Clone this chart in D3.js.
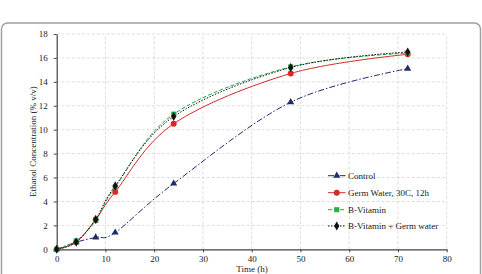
<!DOCTYPE html>
<html><head><meta charset="utf-8">
<script src="https://cdn.jsdelivr.net/npm/d3@7"></script>
<style>body{margin:0;background:#fff}svg{display:block}svg text{font-family:'Liberation Serif','Times New Roman',serif !important;fill:#222}</style>
</head><body><svg id="c" width="482" height="274"></svg>
<script>
const times = [0, 4, 8, 12, 24, 48, 72];
const seriesNames = ["Control", "Germ Water, 30C, 12h", "B-Vitamin", "B-Vitamin + Germ water"];
const control = [0, 0.6, 1.0, 1.4, 5.5, 12.3, 15.1];
const germWater = [0, 0.6, 2.5, 4.8, 10.5, 14.7, 16.3];
const bVitamin = [0, 0.7, 2.4, 5.2, 11.3, 15.25, 16.4];
const bVitGerm = [0, 0.6, 2.5, 5.3, 11.1, 15.2, 16.5];
const xTicks = [0, 10, 20, 30, 40, 50, 60, 70, 80];
const yTicks = [0, 2, 4, 6, 8, 10, 12, 14, 16, 18];

const FONT = "'Liberation Serif','Times New Roman',serif";
const FS = "9px";
const svg = d3.select("#c");
// frame
svg.append("rect").attr("x",1.5).attr("y",23).attr("width",479).attr("height",260).attr("rx",6)
  .attr("fill","none").attr("stroke","#a0a0a0").attr("stroke-width",1.5);

const x = d3.scaleLinear().domain([0,80]).range([56.7,446.7]);
const y = d3.scaleLinear().domain([0,18]).range([249.3,34]);

// grid
const g = svg.append("g");
g.selectAll(".gx").data(xTicks.slice(1)).join("line")
  .attr("x1",d=>x(d)).attr("x2",d=>x(d)).attr("y1",y(0)).attr("y2",y(18))
  .attr("stroke","#d4d4d4").attr("stroke-dasharray","3,2").attr("stroke-width",0.8);
g.selectAll(".gy").data(yTicks.slice(1)).join("line")
  .attr("x1",x(0)).attr("x2",x(80)).attr("y1",d=>y(d)).attr("y2",d=>y(d))
  .attr("stroke","#d4d4d4").attr("stroke-dasharray","3,2").attr("stroke-width",0.8);

// axes
const xa = svg.append("g").attr("transform",`translate(0,${y(0)})`)
  .call(d3.axisBottom(x).tickValues(xTicks).tickSize(3).tickPadding(3).tickSizeOuter(0));
const ya = svg.append("g").attr("transform",`translate(${x(0)},0)`)
  .call(d3.axisLeft(y).tickValues(yTicks).tickSize(3).tickPadding(6).tickSizeOuter(0));
[xa,ya].forEach(a=>{
  a.attr("font-family",FONT).attr("font-size",9);
  a.select(".domain").attr("stroke","#444").attr("stroke-width",1.2);
  a.selectAll(".tick line").attr("stroke","#444");
  a.selectAll("text").style("font-family",FONT).style("font-size",FS).attr("fill","#222");
});

svg.append("text").attr("x",252).attr("y",272).attr("text-anchor","middle").style("font-family",FONT).style("font-size",FS).text("Time (h)");
svg.append("text").attr("transform",`translate(36,${(y(0)+y(18))/2}) rotate(-90)`)
  .attr("text-anchor","middle").style("font-family",FONT).style("font-size",FS).text("Ethanol Concentration (% v/v)");

const styles = [
  {vals:control, color:"#1f2d6b", dash:"6,2,1.5,2", sym:d3.symbolTriangle, size:22},
  {vals:germWater, color:"#d42a2a", dash:null, sym:d3.symbolCircle, size:28},
  {vals:bVitamin, color:"#1fa84a", dash:"4,2", sym:d3.symbolSquare, size:26},
  {vals:bVitGerm, color:"#111", dash:"1.5,1.5", sym:d3.symbolDiamond, size:24}
];
const line = d3.line().x((d,i)=>x(times[i])).y(d=>y(d)).curve(d3.curveCardinal.tension(0));
styles.forEach(s=>{
  svg.append("path").datum(s.vals).attr("d",line).attr("fill","none")
    .attr("stroke",s.color).attr("stroke-width",1).attr("stroke-dasharray",s.dash);
});
styles.forEach(s=>{
  svg.append("g").selectAll("path").data(s.vals).join("path")
    .attr("transform",(d,i)=>`translate(${x(times[i])},${y(d)})`)
    .attr("d",d3.symbol().type(s.sym).size(s.size)).attr("fill",s.color==="#1fa84a"?"#22b14c":s.color);
});

// legend
const legY = [175.7, 192.7, 209.7, 226];
styles.forEach((s,i)=>{
  const lg = svg.append("g").attr("transform",`translate(328,${legY[i]})`);
  lg.append("line").attr("x1",0).attr("x2",17.5).attr("stroke",s.color).attr("stroke-width",1).attr("stroke-dasharray",s.dash);
  lg.append("path").attr("transform","translate(8.75,0)").attr("d",d3.symbol().type(s.sym).size(s.size)).attr("fill",s.color==="#1fa84a"?"#22b14c":s.color);
  lg.append("text").attr("x",20).attr("y",3).style("font-family",FONT).style("font-size",FS).text(seriesNames[i]);
});
</script></body></html>
